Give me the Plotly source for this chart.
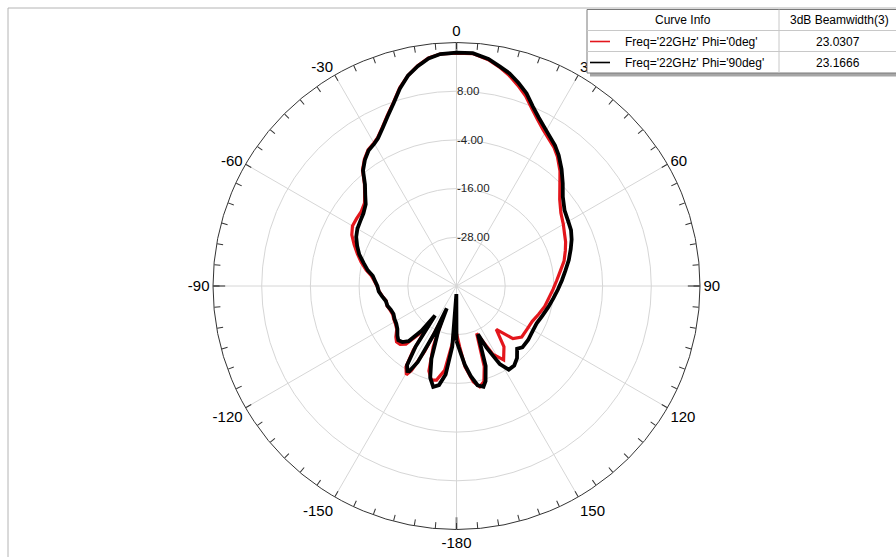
import plotly.graph_objects as go

# ---------------- data ----------------
theta_phi90 = [-180, -179, -176, -173, -170, -167, -164, -161, -158, -156.5, -155, -153, -151, -150, -148, -146,
               -144, -142, -139, -136, -133, -130, -126, -122, -118, -114, -110, -106, -102, -98, -94, -90,
               -86, -83, -80, -76, -72, -68, -64, -60, -56, -52, -48, -45, -42, -39, -36, -33, -30, -28,
               -25, -22, -19, -16, -13, -10, -7, -4, 0, 4, 8, 11, 14, 17, 20, 23, 26, 29, 32, 35, 38, 42,
               46, 50, 55, 60, 64, 68, 72, 77, 82, 87, 92, 97, 103, 109, 115, 121, 127, 133, 136, 140,
               144, 148, 151, 154, 156, 158, 160, 163, 165, 168, 171, 174, 177, 180]
gain_phi90 = [-26.5, -38, -25, -18, -15.2, -14.5, -16.5, -21, -28, -34, -27, -19, -16, -15.8, -17, -22,
              -31, -26, -22, -20.8, -20.4, -21, -22, -22.5, -22.7, -23, -22.8, -22.3, -22.2, -21.5, -20.8, -20.5,
              -19.8, -19.2, -17.8, -16.4, -14.8, -13.6, -12.5, -11.8, -11.4, -10.9, -9.9, -8.2, -6.3, -3.4, -1.6, -0.2, 0.5, 1.2,
              3.0, 5.2, 7.6, 10.6, 13.2, 15.0, 16.5, 17.3, 17.5, 17.5, 16.5, 15.2, 14.0, 12.3, 10.5, 8.1, 6.2, 4.7, 3.4, 2.3, 0.9, -1.3,
              -3.6, -5.8, -7.5, -8.2, -8.6, -9.4, -10.4, -11.6, -12.9, -14.0, -15.0, -15.9, -16.8, -17.6, -18.2, -18.2, -17.9, -17.8, -18.5, -16.8,
              -15.8, -15.7, -18, -23, -27, -24, -19, -15.5, -14.3, -15, -17.5, -20.5, -24, -26.5]

theta_phi0 = [-180, -179, -176, -172, -168, -165, -162, -159, -156.5, -154, -152, -150.5, -148, -146, -144, -142,
              -139, -136, -133, -130, -126, -122, -118, -114, -110, -106, -102, -98, -94, -90, -86, -83,
              -80, -76, -72, -68, -64, -60, -56, -52, -48, -45, -42, -39, -36, -33, -30, -28, -25, -22,
              -19, -16, -13, -10, -7, -4, 0, 4, 8, 11, 14, 17, 20, 23, 26, 29, 32, 35, 38, 42, 46, 50,
              55, 60, 64, 68, 72, 77, 82, 87, 92, 97, 103, 109, 115, 121, 128, 133, 137.5, 142, 147.5, 152,
              157, 161, 164, 167, 170, 174, 177, 180]
gain_phi0 = [-28.3, -33, -26, -19, -16.3, -16, -18, -24, -32, -22, -16.5, -14.9, -16.5, -21, -30, -25,
             -21, -20, -19.8, -20.5, -21.8, -22.3, -22.5, -22.8, -22.6, -22.2, -22.3, -21.6, -20.9, -20.4, -19.6, -18.8,
             -17.4, -15.8, -14.3, -12.8, -11.3, -10.4, -10.3, -10.2, -9.5, -8.0, -6.1, -3.2, -1.4, 0, 0.7, 1.4, 3.2, 5.4,
             7.8, 10.8, 13.2, 15.1, 16.6, 17.3, 17.4, 17.4, 16.3, 15.0, 13.5, 11.7, 9.8, 7.5, 5.6, 4.0, 2.8, 1.8, 0.4, -1.9, -4.6, -6.8,
             -8.6, -9.6, -10.4, -11.0, -11.8, -12.8, -14.2, -15.3, -16.2, -17.0, -17.7, -18.6, -19.4, -19.6, -19.6, -21, -25.5, -21, -18.4, -21,
             -27.3, -19, -15.5, -14.5, -16, -20, -25, -28.3]

curve_names = ["Freq='22GHz' Phi='0deg'", "Freq='22GHz' Phi='90deg'"]
beamwidths = ["23.0307", "23.1666"]
curve_colors = ["#e3161c", "#000000"]
table_headers = ["Curve Info", "3dB Beamwidth(3)"]

radial_range = [-40, 20]
radial_ticks = [-28, -16, -4, 8]
angle_ticks = list(range(0, 360, 5))
spoke_angles = list(range(0, 360, 30))
cardinal_angles = [0, 90, 180, 270]


def angle_label(a):
    if a % 30:
        return ""
    if a == 180:
        return "-180"
    return str(a if a < 180 else a - 360)


FONT = "Liberation Sans, Arial, sans-serif"
W, H = 896, 557

fig = go.Figure()

# spokes (angular grid every 30 deg)
for a in spoke_angles:
    fig.add_trace(go.Scatterpolar(r=radial_range, theta=[a, a], mode="lines",
                                  line=dict(color="#d6d6d6", width=1),
                                  hoverinfo="skip", showlegend=False))
# longer gray marks at the cardinal directions
for a in cardinal_angles:
    fig.add_trace(go.Scatterpolar(r=[radial_range[1] - 3, radial_range[1]], theta=[a, a], mode="lines",
                                  line=dict(color="#8a8a8a", width=2),
                                  hoverinfo="skip", showlegend=False))

fig.add_trace(go.Scatterpolar(r=gain_phi0, theta=theta_phi0, mode="lines", name=curve_names[0],
                              line=dict(color=curve_colors[0], width=3.2)))
fig.add_trace(go.Scatterpolar(r=gain_phi90, theta=theta_phi90, mode="lines", name=curve_names[1],
                              line=dict(color=curve_colors[1], width=3.8)))

cx, cy, R = 456.5, 286.0, 243.5
fig.update_layout(
    width=W, height=H, autosize=False,
    margin=dict(l=0, r=0, t=0, b=0),
    paper_bgcolor="white", plot_bgcolor="white",
    showlegend=False,
    font=dict(family=FONT, color="#000"),
    polar=dict(
        domain=dict(x=[(cx - R) / W, (cx + R) / W], y=[1 - (cy + R) / H, 1 - (cy - R) / H]),
        bgcolor="rgba(0,0,0,0)",
        angularaxis=dict(rotation=90, direction="clockwise",
                         tickmode="array", tickvals=angle_ticks,
                         ticktext=[angle_label(a) for a in angle_ticks],
                         ticks="inside", ticklen=6, tickwidth=1, tickcolor="#333",
                         showgrid=False, showline=True, linecolor="#333", linewidth=1,
                         tickfont=dict(size=15, family=FONT, color="#000")),
        radialaxis=dict(range=radial_range, tickmode="array", tickvals=radial_ticks,
                        ticktext=["%.2f" % v for v in radial_ticks],
                        angle=90, tickangle=90, side="clockwise",
                        showline=False, ticks="",
                        gridcolor="#d6d6d6", gridwidth=1,
                        tickfont=dict(size=11.5, family=FONT, color="#222")),
    ),
)


def X(px):
    return px / W


def Y(py):
    return 1 - py / H


shapes = []
# outer frame
shapes.append(dict(type="rect", xref="paper", yref="paper", x0=X(8), x1=X(905), y0=Y(620), y1=Y(8),
                   line=dict(color="#b4b4b4", width=1), fillcolor="rgba(0,0,0,0)", layer="below"))
# legend table
tl, tr, tt, tb = 587, 905, 9.5, 73
shapes.append(dict(type="rect", xref="paper", yref="paper", x0=X(tl + 3), x1=X(tr), y0=Y(tb + 3.5), y1=Y(tb),
                   line=dict(width=0), fillcolor="#a6a6a6"))
shapes.append(dict(type="rect", xref="paper", yref="paper", x0=X(tl), x1=X(tr), y0=Y(tb), y1=Y(tt),
                   line=dict(color="#7a7a7a", width=1), fillcolor="white"))
for ly in [30.5, 51.5]:
    shapes.append(dict(type="line", xref="paper", yref="paper", x0=X(tl), x1=X(tr), y0=Y(ly), y1=Y(ly),
                       line=dict(color="#c8c8c8", width=1)))
shapes.append(dict(type="line", xref="paper", yref="paper", x0=X(779), x1=X(779), y0=Y(tb), y1=Y(tt),
                   line=dict(color="#c8c8c8", width=1)))
row_y = [41.5, 62.5]
for i in range(2):
    shapes.append(dict(type="line", xref="paper", yref="paper", x0=X(590), x1=X(610), y0=Y(row_y[i]), y1=Y(row_y[i]),
                       line=dict(color=curve_colors[i], width=1.6)))

annotations = []
annotations.append(dict(x=X(683), y=Y(20), xref="paper", yref="paper", text=table_headers[0], showarrow=False,
                        xanchor="center", yanchor="middle", font=dict(size=12, family=FONT, color="#000")))
annotations.append(dict(x=X(839.5), y=Y(20), xref="paper", yref="paper", text=table_headers[1], showarrow=False,
                        xanchor="center", yanchor="middle", font=dict(size=12, family=FONT, color="#000")))
for i in range(2):
    annotations.append(dict(x=X(623), y=Y(row_y[i]), xref="paper", yref="paper", text=curve_names[i],
                            showarrow=False, xanchor="left", yanchor="middle",
                            font=dict(size=12, family=FONT, color="#000")))
    annotations.append(dict(x=X(838), y=Y(row_y[i]), xref="paper", yref="paper", text=beamwidths[i],
                            showarrow=False, xanchor="center", yanchor="middle",
                            font=dict(size=12, family=FONT, color="#000")))

fig.update_layout(shapes=shapes, annotations=annotations)
fig.write_html("out.html")
